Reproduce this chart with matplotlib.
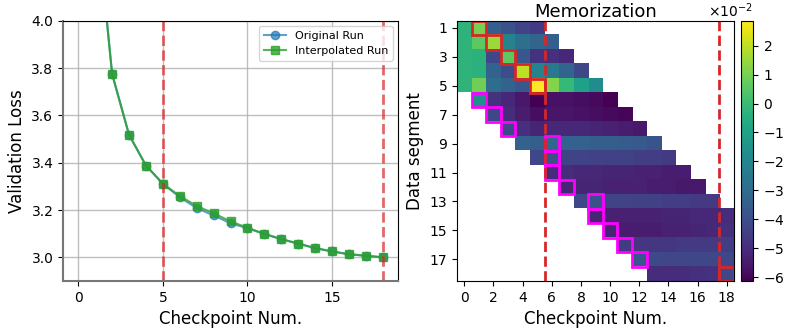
import numpy as np
import matplotlib
matplotlib.use("Agg")
import matplotlib.pyplot as plt
from matplotlib.patches import Rectangle
from matplotlib.ticker import ScalarFormatter, MultipleLocator

# ---- left panel: validation loss per checkpoint ----
checkpoints = list(range(19))
orig_loss = [6.0, 4.5, 3.775, 3.518, 3.388, 3.311, 3.254, 3.208, 3.177, 3.144,
             3.123, 3.099, 3.077, 3.058, 3.039, 3.025, 3.013, 3.007, 3.000]
interp_loss = [6.0, 4.5, 3.775, 3.518, 3.388, 3.311, 3.259, 3.217, 3.186, 3.152,
               3.125, 3.099, 3.077, 3.058, 3.039, 3.025, 3.013, 3.007, 3.000]
loss_vlines = [5, 18]

# ---- right panel: memorization heatmap (units of 1e-2) ----
row_start = [0, 0, 0, 0, 0, 1, 2, 3, 4, 5, 6, 7, 8, 9, 10, 11, 12, 13]
row_values = [
    [-0.3, 1.0, -3.4, -3.9, -4.3, -4.6],
    [-0.3, 0.6, 1.5, -2.1, -2.8, -3.2, -3.4],
    [-0.3, -0.35, -4.2, 0.6, -3.7, -4.8, -4.9, -5.1],
    [-0.3, -0.4, -3.3, -4.0, 2.0, -2.1, -2.5, -3.2, -4.2],
    [-0.3, 0.9, -2.9, -3.3, -3.7, 2.86, 1.2, -0.1, -1.0, -1.8],
    [-1.6, -4.8, -5.1, -5.5, -6.13, -5.7, -5.7, -5.8, -5.9, -6.1],
    [-4.2, -5.0, -5.4, -5.8, -5.6, -5.6, -5.7, -5.8, -5.9, -6.0],
    [-4.1, -4.9, -5.2, -5.1, -5.1, -5.1, -5.2, -5.3, -5.4, -5.5],
    [-3.3, -3.4, -3.1, -3.3, -3.3, -3.4, -3.4, -3.5, -3.6, -3.8],
    [-4.2, -3.9, -4.3, -4.3, -4.4, -4.4, -4.4, -4.5, -4.5, -4.6],
    [-5.0, -5.0, -5.1, -5.1, -5.2, -5.2, -5.3, -5.3, -5.4, -5.4],
    [-5.2, -5.2, -5.2, -5.3, -5.3, -5.3, -5.4, -5.4, -5.5, -5.5],
    [-4.2, -3.9, -4.3, -4.3, -4.4, -4.4, -4.5, -4.5, -4.6, -4.6],
    [-5.2, -5.3, -5.3, -5.3, -5.3, -5.2, -5.2, -5.1, -5.1, -5.0],
    [-5.2, -5.4, -5.4, -5.4, -5.3, -5.3, -5.2, -5.1, -4.9],
    [-4.6, -4.7, -4.7, -4.7, -4.6, -4.6, -4.6, -4.5],
    [-3.7, -4.15, -4.2, -4.2, -4.2, -4.2, -4.2],
    [-5.0, -5.0, -4.95, -4.9, -4.8, -4.2],
]
red_boxes = [(0, 1), (1, 2), (2, 3), (3, 4), (4, 5), (17, 18)]  # (row, col)
magenta_boxes = [(5, 1), (6, 2), (7, 3), (8, 6), (9, 6), (10, 6), (11, 7),
                 (12, 9), (13, 9), (14, 10), (15, 11), (16, 12)]
mem_vlines = [5.5, 17.5]

n_rows, n_cols = len(row_values), 19
mem = np.full((n_rows, n_cols), np.nan)
for r, (s, vals) in enumerate(zip(row_start, row_values)):
    mem[r, s:s + len(vals)] = np.array(vals) * 1e-2
mem = np.ma.masked_invalid(mem)

fig = plt.figure(figsize=(7.85, 3.31), dpi=100)
ax1 = fig.add_axes([0.0803, 0.151, 0.4268, 0.7865])
ax2 = fig.add_axes([0.5822, 0.151, 0.3529, 0.7865])
cax = fig.add_axes([0.944, 0.151, 0.0153, 0.7865])

ax1.plot(checkpoints, orig_loss, marker="o", ms=6, lw=1.5, color="#1f77b4",
         alpha=0.7, label="Original Run")
ax1.plot(checkpoints, interp_loss, marker="s", ms=6, lw=1.5, color="#2ca02c",
         alpha=0.8, label="Interpolated Run")
for x in loss_vlines:
    ax1.axvline(x, color="#d62728", ls="--", lw=2, alpha=0.7)
ax1.set_ylim(2.9, 4.0)
ax1.set_xticks([0, 5, 10, 15])
ax1.grid(True, color="#b0b0b0", lw=1, alpha=0.8)
ax1.set_axisbelow(True)
ax1.set_xlabel("Checkpoint Num.", fontsize=12)
ax1.set_ylabel("Validation Loss", fontsize=12)
ax1.tick_params(labelsize=10)
for side in ("left", "bottom"):
    ax1.spines[side].set_color("#777777")
    ax1.spines[side].set_linewidth(1.5)
ax1.legend(loc="upper right", fontsize=8)

im = ax2.imshow(mem, aspect="auto", cmap="viridis", interpolation="nearest")
for r, c in red_boxes:
    ax2.add_patch(Rectangle((c - 0.5, r - 0.5), 1, 1, fill=False,
                            edgecolor="#d62728", lw=2))
for r, c in magenta_boxes:
    ax2.add_patch(Rectangle((c - 0.5, r - 0.5), 1, 1, fill=False,
                            edgecolor="#ff00ff", lw=2))
for x in mem_vlines:
    ax2.axvline(x, color="#d62728", ls="--", lw=2)
ax2.set_xticks(range(0, 19, 2))
ax2.set_yticks(range(0, 17, 2))
ax2.set_yticklabels([str(i + 1) for i in range(0, 17, 2)])
ax2.tick_params(labelsize=10)
ax2.set_xlabel("Checkpoint Num.", fontsize=12)
ax2.set_ylabel("Data segment", fontsize=12)
ax2.set_title("Memorization", fontsize=13, pad=3)

fmt = ScalarFormatter(useMathText=True)
fmt.set_powerlimits((0, 0))
cb = fig.colorbar(im, cax=cax, format=fmt)
cb.locator = MultipleLocator(0.01)
cb.update_ticks()
cb.ax.tick_params(labelsize=10)
cb.ax.yaxis.get_offset_text().set_fontsize(10)

fig.savefig("out.png", dpi=100)
